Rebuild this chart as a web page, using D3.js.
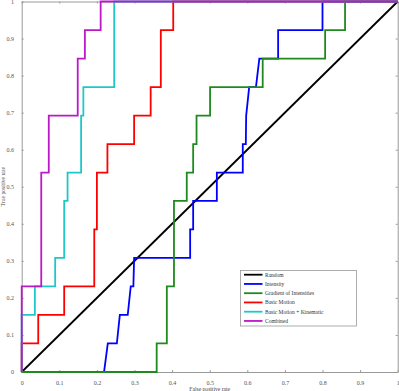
<!DOCTYPE html>
<html>
<head>
<meta charset="utf-8">
<script src="https://cdn.jsdelivr.net/npm/d3@7"></script>
<style>
  body { margin: 0; background: #fff; }
  svg { display: block; font-family: 'Liberation Serif', 'DejaVu Serif', serif; }
</style>
</head>
<body>
<div class="content"></div>
<script>
const w = 399;
const h = 391;
const m = { top: 1.5, right: 1.3, bottom: 19, left: 21.7 };

const ticks = [0, 0.1, 0.2, 0.3, 0.4, 0.5, 0.6, 0.7, 0.8, 0.9, 1];
const tickLabels = ['0', '0.1', '0.2', '0.3', '0.4', '0.5', '0.6', '0.7', '0.8', '0.9', '1'];

const names = ['Random', 'Intensity', 'Gradient of Intensities', 'Basic Motion', 'Basic Motion + Kinematic', 'Combined'];
const colors = ['#000000', '#0000ff', '#1f8a1f', '#ff0000', '#1fc8c8', '#bb18c8'];

const randomFpr = [0, 1];
const randomTpr = [0, 1];

const intensityFpr = [0, 0.219, 0.229, 0.253, 0.261, 0.282, 0.29, 0.297, 0.299, 0.448, 0.448, 0.456, 0.456, 0.519, 0.519, 0.588, 0.588, 0.596, 0.597, 0.605, 0.623, 0.632, 0.682, 0.682, 0.8, 0.8, 1];
const intensityTpr = [0, 0, 0.077, 0.077, 0.154, 0.154, 0.231, 0.231, 0.308, 0.308, 0.385, 0.385, 0.462, 0.462, 0.538, 0.538, 0.615, 0.615, 0.692, 0.769, 0.769, 0.846, 0.846, 0.923, 0.923, 1, 1];

const gradientFpr = [0, 0.359, 0.359, 0.386, 0.386, 0.405, 0.405, 0.439, 0.439, 0.456, 0.456, 0.465, 0.465, 0.501, 0.501, 0.641, 0.641, 0.807, 0.807, 0.86, 0.86, 1];
const gradientTpr = [0, 0, 0.077, 0.077, 0.231, 0.231, 0.462, 0.462, 0.538, 0.538, 0.615, 0.615, 0.692, 0.692, 0.769, 0.769, 0.846, 0.846, 0.923, 0.923, 1, 1];

const motionFpr = [0, 0, 0.044, 0.044, 0.113, 0.113, 0.193, 0.193, 0.2, 0.2, 0.228, 0.228, 0.299, 0.299, 0.343, 0.343, 0.37, 0.37, 0.403, 0.403, 1];
const motionTpr = [0, 0.077, 0.077, 0.154, 0.154, 0.231, 0.231, 0.385, 0.385, 0.538, 0.538, 0.615, 0.615, 0.692, 0.692, 0.769, 0.769, 0.923, 0.923, 1, 1];

const kinematicFpr = [0, 0, 0.035, 0.035, 0.089, 0.089, 0.113, 0.113, 0.122, 0.122, 0.158, 0.158, 0.164, 0.164, 0.246, 0.246, 1];
const kinematicTpr = [0, 0.154, 0.154, 0.231, 0.231, 0.308, 0.308, 0.462, 0.462, 0.538, 0.538, 0.692, 0.692, 0.769, 0.769, 1, 1];

const combinedFpr = [0, 0, 0.052, 0.052, 0.072, 0.072, 0.149, 0.149, 0.168, 0.168, 0.21, 0.21, 1];
const combinedTpr = [0, 0.231, 0.231, 0.538, 0.538, 0.692, 0.692, 0.846, 0.846, 0.923, 0.923, 1, 1];

const series = [
	[randomFpr, randomTpr],
	[intensityFpr, intensityTpr],
	[gradientFpr, gradientTpr],
	[motionFpr, motionTpr],
	[kinematicFpr, kinematicTpr],
	[combinedFpr, combinedTpr]
].map((s, i) => ({
	name: names[i],
	color: colors[i],
	points: s[0].map((x, j) => [x, s[1][j]])
}));

const svg = d3.select('.content').append('svg')
	.attr('width', w)
	.attr('height', h);

const xScale = d3.scaleLinear().domain([0, 1]).range([m.left, w - m.right]);
const yScale = d3.scaleLinear().domain([0, 1]).range([h - m.bottom, m.top]);

const fmt = (d) => tickLabels[ticks.indexOf(d)];
const axisColor = '#9a9a9a';

function styleAxis(g, hideText) {
	g.selectAll('.domain').attr('stroke', axisColor);
	g.selectAll('.tick line').attr('stroke', axisColor);
	g.selectAll('.tick text')
		.attr('fill', '#555')
		.style('font-size', '6px')
		.style('font-family', "'Liberation Serif', serif");
	if (hideText) g.selectAll('.tick text').remove();
}

svg.append('g')
	.attr('transform', 'translate(0,' + (h - m.bottom) + ')')
	.call(d3.axisBottom(xScale).tickValues(ticks).tickFormat(fmt).tickSizeInner(-2).tickSizeOuter(0).tickPadding(8.5))
	.call((g) => styleAxis(g, false));

svg.append('g')
	.attr('transform', 'translate(0,' + m.top + ')')
	.call(d3.axisTop(xScale).tickValues(ticks).tickSizeInner(-2).tickSizeOuter(0))
	.call((g) => styleAxis(g, true));

svg.append('g')
	.attr('transform', 'translate(' + m.left + ',0)')
	.call(d3.axisLeft(yScale).tickValues(ticks).tickFormat(fmt).tickSizeInner(-2).tickSizeOuter(0).tickPadding(7.7))
	.call((g) => styleAxis(g, false));

svg.append('g')
	.attr('transform', 'translate(' + (w - m.right) + ',0)')
	.call(d3.axisRight(yScale).tickValues(ticks).tickSizeInner(-2).tickSizeOuter(0))
	.call((g) => styleAxis(g, true));

svg.append('text')
	.attr('x', xScale(0.5))
	.attr('y', 390.5)
	.attr('text-anchor', 'middle')
	.attr('fill', '#444')
	.style('font-size', '5.6px')
	.text('False positive rate');

svg.append('text')
	.attr('transform', 'translate(5,' + yScale(0.5) + ') rotate(-90)')
	.attr('text-anchor', 'middle')
	.attr('fill', '#444')
	.style('font-size', '5.6px')
	.text('True positive rate');

const line = d3.line()
	.x((d) => xScale(d[0]))
	.y((d) => yScale(d[1]));

svg.append('g')
	.selectAll('path')
	.data(series)
	.enter()
	.append('path')
	.attr('d', (d) => line(d.points))
	.attr('fill', 'none')
	.attr('stroke', (d) => d.color)
	.attr('stroke-width', 1.8)
	.attr('stroke-linejoin', 'miter');

// legend
const legend = svg.append('g')
	.attr('id', 'legend');

legend.append('rect')
	.attr('x', 240.5)
	.attr('y', 270.5)
	.attr('width', 116)
	.attr('height', 55.5)
	.attr('fill', '#fff')
	.attr('stroke', '#999')
	.attr('stroke-width', 0.8);

const rows = legend.selectAll('.row')
	.data(series)
	.enter()
	.append('g')
	.attr('transform', (d, i) => 'translate(0,' + (274.7 + i * 9.25) + ')');

rows.append('line')
	.attr('x1', 244)
	.attr('x2', 262.5)
	.attr('stroke', (d) => d.color)
	.attr('stroke-width', 1.8);

rows.append('text')
	.attr('x', 265)
	.attr('dy', '0.33em')
	.attr('fill', '#333')
	.style('font-size', '5.5px')
	.text((d) => d.name);
</script>
</body>
</html>
